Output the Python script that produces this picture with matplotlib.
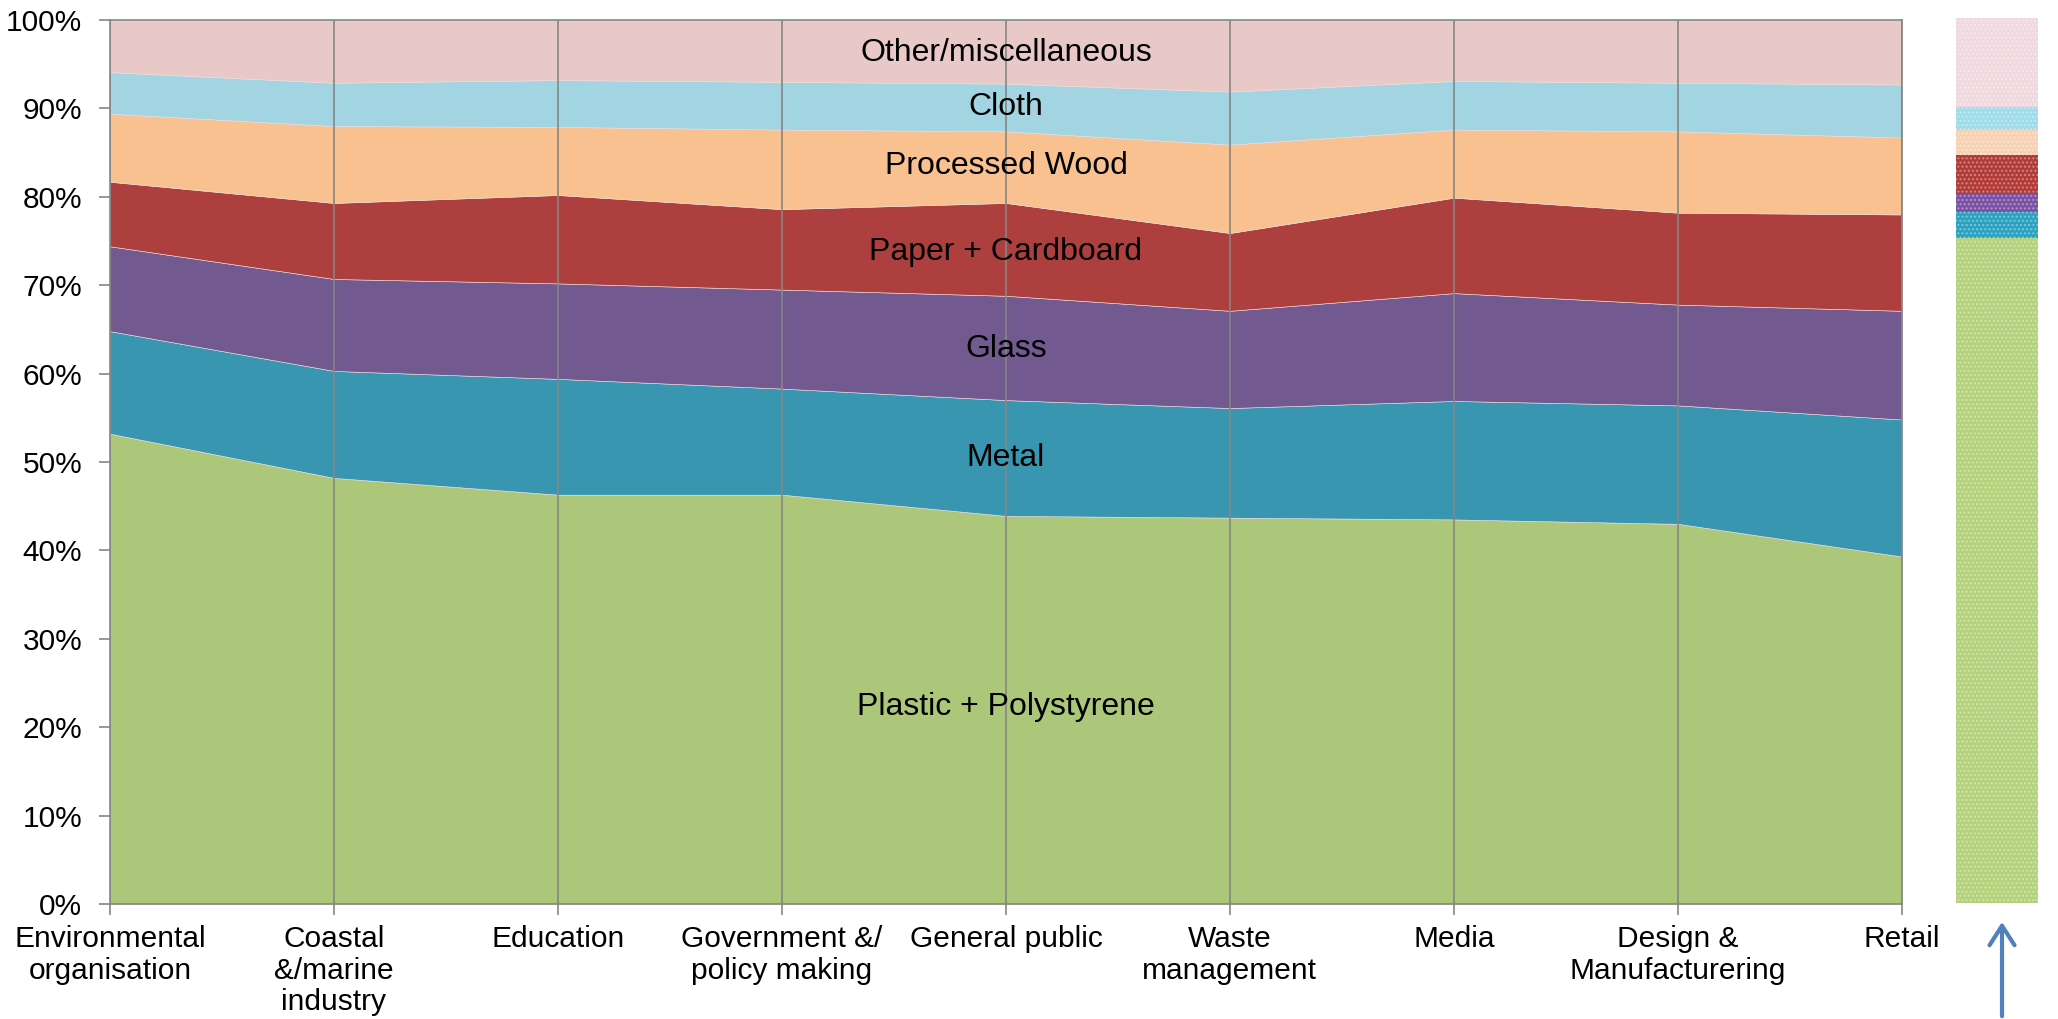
import numpy as np
import matplotlib
matplotlib.use('Agg')
import matplotlib.pyplot as plt
from matplotlib.patches import FancyArrowPatch

plt.rcParams['font.family'] = ['Liberation Sans', 'DejaVu Sans']

# ==========================================================
# Data (percent share of each material per sector)
# ==========================================================

sectors = [
    'Environmental\norganisation',
    'Coastal\n&/marine\nindustry',
    'Education',
    'Government &/\npolicy making',
    'General public',
    'Waste\nmanagement',
    'Media',
    'Design &\nManufacturering',
    'Retail',
]

materials = [
    'Plastic + Polystyrene',
    'Metal',
    'Glass',
    'Paper + Cardboard',
    'Processed Wood',
    'Cloth',
    'Other/miscellaneous',
]

plastic = [53.2, 48.2, 46.3, 46.3, 43.9, 43.7, 43.5, 43.0, 39.3]
metal = [11.6, 12.1, 13.1, 12.0, 13.1, 12.4, 13.4, 13.4, 15.5]
glass = [9.6, 10.4, 10.8, 11.2, 11.8, 11.0, 12.2, 11.4, 12.3]
paper = [7.3, 8.6, 10.0, 9.1, 10.5, 8.8, 10.8, 10.4, 10.9]
wood = [7.7, 8.7, 7.7, 9.0, 8.1, 10.0, 7.7, 9.2, 8.7]
cloth = [4.7, 4.9, 5.3, 5.4, 5.4, 6.0, 5.5, 5.5, 6.0]
other = [5.9, 7.1, 6.8, 7.0, 7.2, 8.1, 6.9, 7.1, 7.3]

# overall composition shown in the bar on the right
overall = [75.2, 2.9, 2.0, 4.4, 2.9, 2.6, 10.0]

# label heights (percent) inside the area chart
label_y = [22.3, 50.4, 62.8, 73.8, 83.5, 90.2, 96.3]

colors = ['#ADC77A', '#3996B1', '#725990', '#AD3F3F',
          '#F9C090', '#A3D4E2', '#E9C8C8']
bar_colors = ['#B4D27C', '#2BA2BF', '#7A52A3', '#B23B37',
              '#F6D2B4', '#9EDCEA', '#EFD9DF']

# ==========================================================
# Figure
# ==========================================================

fig = plt.figure(figsize=(20.58, 10.19), dpi=100)
ax = fig.add_axes([0.0534, 0.1129, 0.8708, 0.8675])

x = np.arange(len(sectors))
series = [plastic, metal, glass, paper, wood, cloth, other]

ax.stackplot(x, *series, colors=colors,
             edgecolor='#eedddd', linewidth=0.4)

# vertical gridlines at every category
for xi in x:
    ax.axvline(xi, color='#868686', linewidth=1.2, zorder=3)

# in-chart labels (at the "General public" column)
for name, yl in zip(materials, label_y):
    ax.text(4, yl, name, ha='center', va='center',
            fontsize=23, color='black', zorder=4)

# ==========================================================
# Axes formatting
# ==========================================================

ax.set_xlim(0, len(sectors) - 1)
ax.set_ylim(0, 100)

ax.set_yticks(np.arange(0, 101, 10))
ax.set_yticklabels([f'{v}%' for v in range(0, 101, 10)])
ax.set_xticks(x)
ax.set_xticklabels(sectors, linespacing=1.17)

ax.tick_params(axis='both', color='#868686',
               length=8, width=1.2, direction='out')
ax.tick_params(axis='y', labelsize=21.5, pad=12)
ax.tick_params(axis='x', labelsize=21.5, pad=7)

for s in ax.spines.values():
    s.set_color('#868686')
    s.set_linewidth(1.2)
    s.set_zorder(5)

# ==========================================================
# Overall composition bar (right)
# ==========================================================

plt.rcParams['hatch.linewidth'] = 1.0
bax = fig.add_axes([0.9504, 0.1138, 0.0398, 0.8685])
bottom = 0.0
for val, c in zip(overall, bar_colors):
    bax.bar(0, val, bottom=bottom, width=1.0, color=c,
            hatch='....', edgecolor=(1, 1, 1, 0.35), linewidth=0)
    bottom += val
bax.set_xlim(-0.5, 0.5)
bax.set_ylim(0, 100)
bax.axis('off')

# arrow pointing at the bar
arrow = FancyArrowPatch(
    (0.9728, 0.0), (0.9728, 0.098),
    transform=fig.transFigure,
    arrowstyle='->,head_length=14,head_width=9',
    color='#4F81BD', linewidth=3
)
fig.add_artist(arrow)

fig.savefig('out.png', dpi=100)
